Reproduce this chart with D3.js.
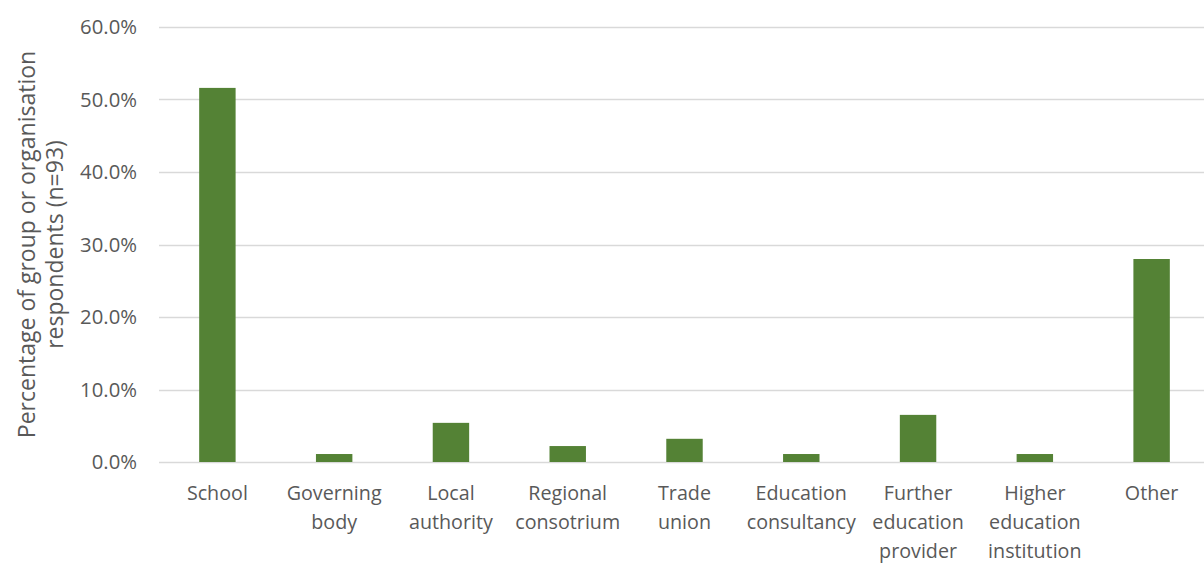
<!DOCTYPE html>
<html>
<head>
<meta charset="utf-8">
<script src="https://cdn.jsdelivr.net/npm/d3@7"></script>
<style>
  html, body { margin: 0; padding: 0; background: #ffffff; }
  svg { display: block; }
  text { font-family: "Open Sans", "Liberation Sans", sans-serif; fill: #595959; }
</style>
</head>
<body>
<svg id="chart" width="1204" height="563"></svg>
<script>
// Respondent type categories (one word per label line)
const categories = [
  "School",
  "Governing body",
  "Local authority",
  "Regional consotrium",
  "Trade union",
  "Education consultancy",
  "Further education provider",
  "Higher education institution",
  "Other"
];

// Share of group or organisation respondents, percent (n=93)
const percentages = [51.6, 1.1, 5.4, 2.2, 3.2, 1.1, 6.5, 1.1, 28.0];

// Value axis ticks
const yTicks = [0, 10, 20, 30, 40, 50, 60];

const yTitleLines = ["Percentage of group or organisation", "respondents (n=93)"];

const data = categories.map((c, i) => ({ category: c, value: percentages[i] }));

const svg = d3.select("#chart");
const plot = { left: 159, right: 1210, top: 27, bottom: 462 };

const x = d3.scaleBand()
  .domain(categories)
  .range([plot.left, plot.right])
  .paddingInner(0.688)
  .paddingOuter(0.344);

const y = d3.scaleLinear()
  .domain([0, 60])
  .range([plot.bottom, plot.top]);

// Horizontal gridlines
svg.append("g")
  .selectAll("line")
  .data(yTicks)
  .join("line")
  .attr("x1", plot.left)
  .attr("x2", 1204)
  .attr("y1", d => Math.round(y(d)) + 0.5)
  .attr("y2", d => Math.round(y(d)) + 0.5)
  .attr("stroke", "#d9d9d9")
  .attr("stroke-width", 1.3);

// Y tick labels
svg.append("g")
  .selectAll("text")
  .data(yTicks)
  .join("text")
  .attr("x", 137)
  .attr("y", d => y(d))
  .attr("dy", "0.35em")
  .attr("text-anchor", "end")
  .style("font-size", "20.3px")
  .text(d => d.toFixed(1) + "%");

// Bars
svg.append("g")
  .selectAll("rect")
  .data(data)
  .join("rect")
  .attr("x", d => x(d.category))
  .attr("width", x.bandwidth())
  .attr("y", d => y(d.value))
  .attr("height", d => y(0) - y(d.value))
  .attr("fill", "#548235");

// Category labels, one word per line
const xl = svg.append("g")
  .selectAll("text")
  .data(categories)
  .join("text")
  .attr("x", d => x(d) + x.bandwidth() / 2)
  .attr("y", 500)
  .attr("text-anchor", "middle")
  .style("font-size", "19.7px");

xl.each(function(d) {
  const t = d3.select(this);
  d.split(" ").forEach((w, i) => {
    t.append("tspan")
      .attr("x", x(d) + x.bandwidth() / 2)
      .attr("dy", i === 0 ? 0 : 29)
      .text(w);
  });
});

// Y axis title
const cy = (plot.top + plot.bottom) / 2;
svg.append("text")
  .attr("transform", `translate(35,${cy}) rotate(-90)`)
  .attr("text-anchor", "middle")
  .style("font-size", "23px")
  .selectAll("tspan")
  .data(yTitleLines)
  .join("tspan")
  .attr("x", 0)
  .attr("dy", (d, i) => i === 0 ? 0 : 28)
  .text(d => d);
</script>
</body>
</html>
